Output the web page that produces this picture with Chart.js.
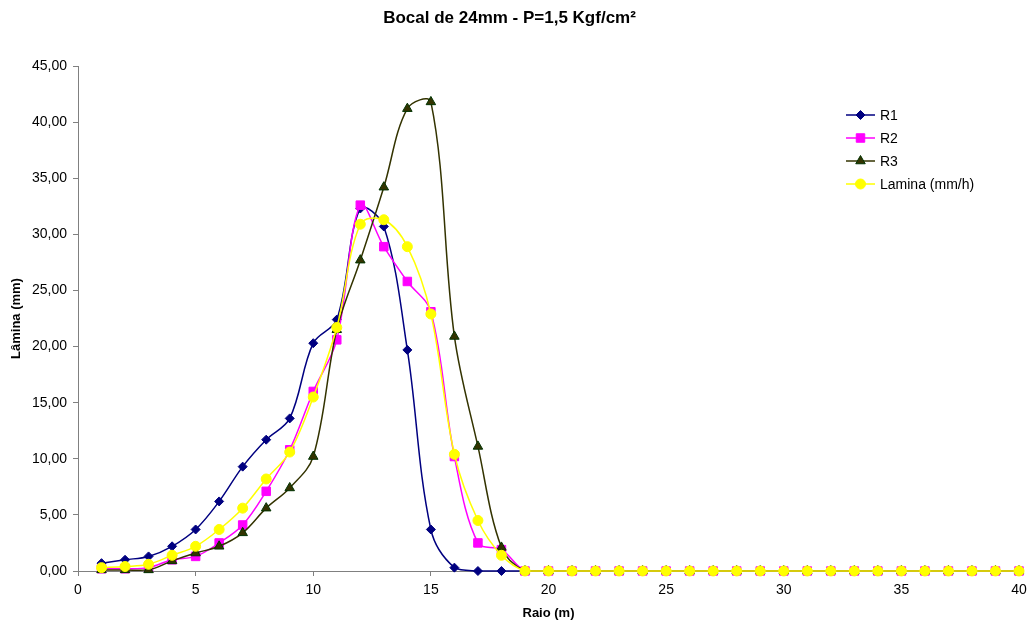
<!DOCTYPE html>
<html>
<head>
<meta charset="utf-8">
<title>Bocal de 24mm</title>
<script src="https://cdn.jsdelivr.net/npm/chart.js@4.4.0/dist/chart.umd.min.js"></script>
<style>
    html, body { margin: 0; padding: 0; background: #fff; }
    #wrap { position: relative; width: 1034px; height: 629px; }
</style>
</head>
<body>
<div id="wrap"><canvas id="chart"></canvas></div>
<script>
// Données
const raio = [1, 2, 3, 4, 5, 6, 7, 8, 9, 10, 11, 12, 13, 14, 15, 16, 17, 18, 19, 20,
              21, 22, 23, 24, 25, 26, 27, 28, 29, 30, 31, 32, 33, 34, 35, 36, 37, 38, 39, 40];
const r1 = [0.7, 1.0, 1.3, 2.2, 3.7, 6.2, 9.3, 11.7, 13.6, 20.3, 22.4, 32.3, 30.7, 19.7, 3.7, 0.3, 0.0, 0.0, 0, 0,
            0, 0, 0, 0, 0, 0, 0, 0, 0, 0, 0, 0, 0, 0, 0, 0, 0, 0, 0, 0];
const r2 = [0.2, 0.2, 0.3, 1.0, 1.3, 2.5, 4.1, 7.1, 10.8, 16.0, 20.6, 32.6, 28.9, 25.8, 23.1, 10.2, 2.5, 1.9, 0, 0,
            0, 0, 0, 0, 0, 0, 0, 0, 0, 0, 0, 0, 0, 0, 0, 0, 0, 0, 0, 0];
const r3 = [0.1, 0.1, 0.1, 0.9, 1.6, 2.2, 3.4, 5.6, 7.4, 10.2, 21.5, 27.7, 34.2, 41.2, 41.8, 20.9, 11.1, 2.1, 0, 0,
            0, 0, 0, 0, 0, 0, 0, 0, 0, 0, 0, 0, 0, 0, 0, 0, 0, 0, 0, 0];
const lamina = [0.3, 0.4, 0.6, 1.4, 2.2, 3.7, 5.6, 8.2, 10.6, 15.5, 21.7, 30.9, 31.3, 28.9, 22.9, 10.4, 4.5, 1.4, 0, 0,
                0, 0, 0, 0, 0, 0, 0, 0, 0, 0, 0, 0, 0, 0, 0, 0, 0, 0, 0, 0];
const seriesLabels = ['R1', 'R2', 'R3', 'Lamina (mm/h)'];
const xTicks = [0, 5, 10, 15, 20, 25, 30, 35, 40];
const yTicks = [0, 5, 10, 15, 20, 25, 30, 35, 40, 45];

const FONT = 'Arial, "Liberation Sans", sans-serif';
const AXIS_COLOR = '#808080';

Chart.defaults.font.family = FONT;
Chart.defaults.color = '#000';

function toPoints(values) {
    return raio.map((x, i) => ({ x: x, y: values[i] }));
}

// Dessin d'un marqueur (utilisé pour la légende)
function drawMarker(ctx, style, x, y, r, fill, stroke) {
    ctx.beginPath();
    if (style === 'rectRot') {
        ctx.moveTo(x, y - r);
        ctx.lineTo(x + r, y);
        ctx.lineTo(x, y + r);
        ctx.lineTo(x - r, y);
        ctx.closePath();
    } else if (style === 'rect') {
        const s = Math.SQRT1_2 * r;
        ctx.rect(x - s, y - s, 2 * s, 2 * s);
    } else if (style === 'triangle') {
        ctx.moveTo(x, y - r);
        ctx.lineTo(x + r * Math.sqrt(3) / 2, y + r / 2);
        ctx.lineTo(x - r * Math.sqrt(3) / 2, y + r / 2);
        ctx.closePath();
    } else {
        ctx.arc(x, y, r, 0, Math.PI * 2);
    }
    ctx.fillStyle = fill;
    ctx.fill();
    ctx.lineWidth = 1;
    ctx.strokeStyle = stroke;
    ctx.stroke();
}

// Légende à droite, à l'intérieur de la zone du graphique
const sideLegend = {
    id: 'sideLegend',
    afterDraw(chart) {
        const ctx = chart.ctx;
        ctx.save();
        ctx.font = '14px ' + FONT;
        ctx.textBaseline = 'middle';
        ctx.textAlign = 'left';
        chart.data.datasets.forEach((ds, i) => {
            const y = 115 + i * 23;
            ctx.strokeStyle = ds.borderColor;
            ctx.lineWidth = 1.5;
            ctx.beginPath();
            ctx.moveTo(846, y);
            ctx.lineTo(875, y);
            ctx.stroke();
            drawMarker(ctx, ds.pointStyle, 860.5, y, ds.pointRadius,
                       ds.pointBackgroundColor, ds.pointBorderColor);
            ctx.fillStyle = '#000';
            ctx.fillText(ds.label, 880, y + 1);
        });
        ctx.restore();
    }
};

function makeDataset(label, values, color, pointStyle, radius, pointFill, pointBorder, order) {
    return {
        label: label,
        data: toPoints(values),
        borderColor: color,
        backgroundColor: pointFill,
        borderWidth: 1.5,
        pointStyle: pointStyle,
        pointRadius: radius,
        pointHoverRadius: radius,
        pointBackgroundColor: pointFill,
        pointBorderColor: pointBorder,
        pointBorderWidth: 1,
        tension: 0.35,
        clip: false,
        order: order
    };
}

const ctx = document.getElementById('chart').getContext('2d');
const chart = new Chart(ctx, {
    type: 'line',
    data: {
        datasets: [
            makeDataset(seriesLabels[0], r1, '#000080', 'rectRot', 4.5, '#000080', '#000080', 3),
            makeDataset(seriesLabels[1], r2, '#FF00FF', 'rect', 6, '#FF00FF', '#FF00FF', 2),
            makeDataset(seriesLabels[2], r3, '#333300', 'triangle', 5.5, '#333300', '#003300', 1),
            makeDataset(seriesLabels[3], lamina, '#FFFF00', 'circle', 5, '#FFFF00', '#FFFF00', 0)
        ]
    },
    options: {
        responsive: true,
        maintainAspectRatio: false,
        animation: false,
        layout: {
            padding: { left: 0, right: 15, top: 0, bottom: 0 }
        },
        plugins: {
            legend: { display: false },
            tooltip: { enabled: false },
            title: {
                display: true,
                text: 'Bocal de 24mm - P=1,5 Kgf/cm²',
                color: '#000',
                font: { size: 17, weight: 'bold', family: FONT },
                padding: { top: 8, bottom: 37.6 }
            }
        },
        scales: {
            x: {
                type: 'linear',
                min: 0,
                max: 40,
                afterBuildTicks: scale => { scale.ticks = xTicks.map(v => ({ value: v })); },
                afterFit: scale => { scale.height = 58; },
                grid: {
                    display: true,
                    drawOnChartArea: false,
                    drawTicks: true,
                    tickLength: 5,
                    color: AXIS_COLOR
                },
                border: { color: AXIS_COLOR, width: 1 },
                ticks: {
                    color: '#000',
                    padding: 6,
                    maxRotation: 0,
                    font: { size: 14 },
                    callback: v => String(v)
                },
                title: {
                    display: true,
                    text: 'Raio (m)',
                    color: '#000',
                    font: { size: 13, weight: 'bold' },
                    padding: { top: 0, bottom: 8 }
                }
            },
            y: {
                type: 'linear',
                min: 0,
                max: 45,
                afterBuildTicks: scale => { scale.ticks = yTicks.map(v => ({ value: v })); },
                afterFit: scale => { scale.width = 78; },
                grid: {
                    display: true,
                    drawOnChartArea: false,
                    drawTicks: true,
                    tickLength: 5,
                    color: AXIS_COLOR
                },
                border: { color: AXIS_COLOR, width: 1 },
                ticks: {
                    color: '#000',
                    padding: 6,
                    font: { size: 14 },
                    callback: v => v.toFixed(2).replace('.', ',')
                },
                title: {
                    display: true,
                    text: 'Lâmina (mm)',
                    color: '#000',
                    font: { size: 13, weight: 'bold' },
                    padding: { top: 9, bottom: 0 }
                }
            }
        }
    },
    plugins: [sideLegend]
});
</script>
</body>
</html>
